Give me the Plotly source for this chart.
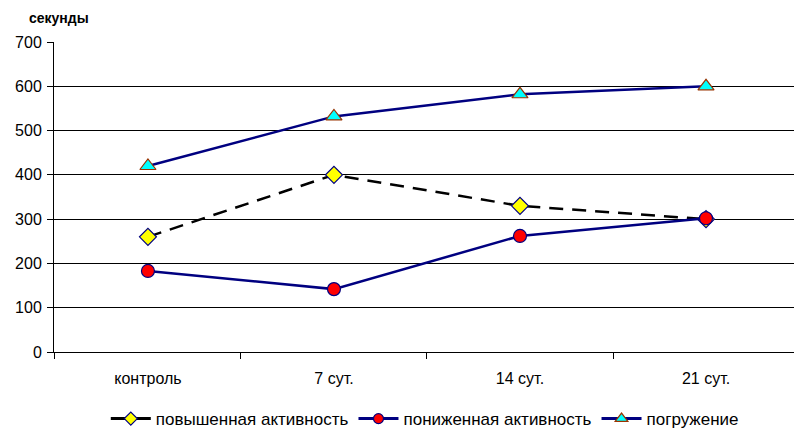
import plotly.graph_objects as go

categories = ["контроль", "7 сут.", "14 сут.", "21 сут."]
raised = [260, 400, 330, 300]      # повышенная активность
lowered = [183, 142, 262, 302]     # пониженная активность
immersion = [420, 532, 582, 600]   # погружение
y_ticks = [0, 100, 200, 300, 400, 500, 600, 700]

NAVY = "#000080"
FONT = "Liberation Sans, Arial, sans-serif"

series = [
    dict(name="повышенная активность", y=raised,
         line=dict(color="black", width=2.5, dash="14px,9px"),
         symbol="diamond", fill="#FFFF00", edge=NAVY, size=13),
    dict(name="пониженная активность", y=lowered,
         line=dict(color=NAVY, width=2.5),
         symbol="circle", fill="#FF0000", edge=NAVY, size=13),
    dict(name="погружение", y=immersion,
         line=dict(color=NAVY, width=2.5),
         symbol="triangle-up", fill="#00FFFF", edge="#993300", size=14),
]

fig = go.Figure()
for s in series:
    # data line with markers
    fig.add_trace(go.Scatter(
        x=categories, y=s["y"], name=s["name"], mode="lines+markers", showlegend=False,
        line=s["line"],
        marker=dict(symbol=s["symbol"], size=s["size"], color=s["fill"],
                    line=dict(color=s["edge"], width=1.2)),
    ))
for s in series:
    # legend entry with a smaller sample marker
    fig.add_trace(go.Scatter(
        x=[None], y=[None], name=s["name"], mode="lines+markers", showlegend=True,
        line=dict(color=s["line"]["color"], width=3),
        marker=dict(symbol=s["symbol"], size=s["size"] - 3, color=s["fill"],
                    line=dict(color=s["edge"], width=1.2)),
    ))

fig.update_layout(
    width=794, height=432,
    margin=dict(l=54, r=0, t=42, b=80, autoexpand=False),
    paper_bgcolor="white", plot_bgcolor="white",
    font=dict(family=FONT, size=16, color="black"),
    showlegend=True,
    legend=dict(orientation="h", x=0.535, xanchor="center", xref="container",
                y=0.03, yanchor="middle", yref="container",
                font=dict(size=17), itemwidth=40),
    annotations=[dict(text="<b>секунды</b>", xref="paper", yref="paper", x=-0.0365, y=1.0,
                      xanchor="left", yanchor="bottom", yshift=14, showarrow=False,
                      font=dict(size=14, family=FONT))],
)
fig.update_xaxes(
    type="category", range=[-0.505, 3.473],
    showline=True, linecolor="black", linewidth=1,
    ticks="outside", tickson="boundaries", ticklen=6, tickcolor="black",
    showgrid=False, zeroline=False, tickfont=dict(size=16), ticklabelstandoff=12,
)
fig.update_yaxes(
    range=[0, 700], tickvals=y_ticks,
    showline=True, linecolor="black", linewidth=1,
    ticks="outside", ticklen=6, tickcolor="black",
    showgrid=True, gridcolor="black", gridwidth=1, zeroline=False,
    tickfont=dict(size=16), ticklabelstandoff=2,
)

fig.write_html("out.html")
